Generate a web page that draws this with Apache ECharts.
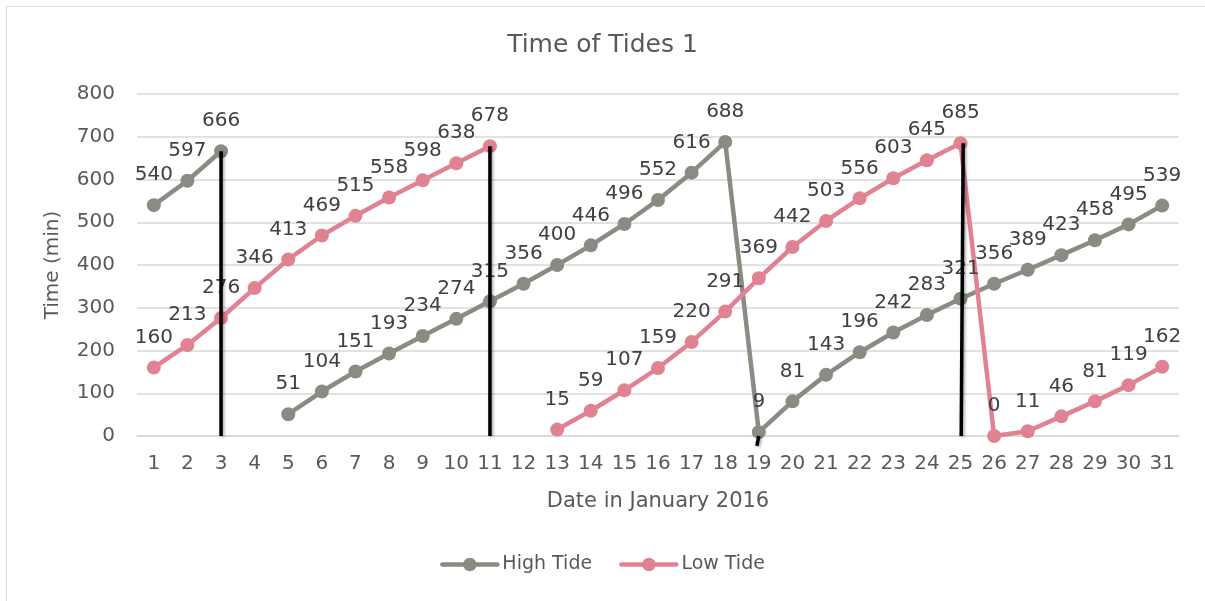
<!DOCTYPE html>
<html>
<head>
<meta charset="utf-8">
<script src="https://cdn.jsdelivr.net/npm/echarts@6/dist/echarts.min.js"></script>
<style>
  html, body { margin: 0; padding: 0; background: #fff; overflow: hidden; }
  #frame { position: absolute; left: 6px; top: 6px; width: 1300px; height: 700px; border: 1.5px solid #d9d9d9; box-sizing: border-box; }
  #chart { position: absolute; left: 0; top: 0; width: 1205px; height: 601px; }
</style>
</head>
<body>
<div id="frame"></div>
<div id="chart"></div>
<script>
const days = ['1','2','3','4','5','6','7','8','9','10','11','12','13','14','15','16','17','18','19','20','21','22','23','24','25','26','27','28','29','30','31'];
const highTide = [540,597,666,null,51,104,151,193,234,274,315,356,400,446,496,552,616,688,9,81,143,196,242,283,321,356,389,423,458,495,539];
const lowTide = [160,213,276,346,413,469,515,558,598,638,678,null,15,59,107,159,220,291,369,442,503,556,603,645,685,0,11,46,81,119,162];
const yTicks = [0,100,200,300,400,500,600,700,800];
// hand-drawn divider strokes: start/end (day position, minutes)
const dividerStartX = [3, 11, 19, 25.08];
const dividerStartY = [666, 678, 0, 685];
const dividerEndX = [3, 11, 18.94, 25.02];
const dividerEndY = [0, 0, -23, 0];

const FONT = 'DejaVu Sans';
const chart = echarts.init(document.getElementById('chart'), null, { renderer: 'canvas' });

const labelStyle = {
  show: true, position: 'top', distance: 13,
  color: '#404040', fontFamily: FONT, fontSize: 20,
  formatter: p => (p.value == null ? '' : String(p.value))
};

const dividerSeries = dividerStartX.map((x, i) => ({
  type: 'line', xAxisIndex: 1, yAxisIndex: 0, z: 10,
  data: [[x, dividerStartY[i]], [dividerEndX[i], dividerEndY[i]]],
  symbol: 'none', clip: false, silent: true,
  lineStyle: { color: '#000', width: 3.5, shadowBlur: 3, shadowColor: 'rgba(0,0,0,0.35)', shadowOffsetX: 1.5, shadowOffsetY: 1 },
  legendHoverLink: false
}));

chart.setOption({
  animation: false,
  backgroundColor: 'transparent',
  title: {
    text: 'Time of Tides 1', left: 'center', top: 28,
    textStyle: { fontFamily: FONT, fontSize: 25, fontWeight: 'normal', color: '#595959' }
  },
  legend: {
    bottom: 22, left: 'center',
    data: ['High Tide', 'Low Tide'],
    itemWidth: 55, itemHeight: 17, itemGap: 27,
    lineStyle: { width: 4.5, cap: 'round' },
    textStyle: { fontFamily: FONT, fontSize: 19, color: '#595959' }
  },
  grid: { left: 137, right: 26, top: 94, bottom: 165, containLabel: false },
  xAxis: [{
    type: 'category', data: days, boundaryGap: true,
    name: 'Date in January 2016', nameLocation: 'middle', nameGap: 55,
    nameTextStyle: { fontFamily: FONT, fontSize: 21, color: '#595959' },
    axisLine: { lineStyle: { color: '#d9d9d9', width: 1.5 } },
    axisTick: { show: false },
    axisLabel: { fontFamily: FONT, fontSize: 20, color: '#595959', margin: 18, interval: 0 }
  }, {
    type: 'value', min: 0.5, max: 31.5, show: false
  }],
  yAxis: {
    type: 'value', min: yTicks[0], max: yTicks[yTicks.length - 1], interval: 100,
    name: 'Time (min)', nameLocation: 'middle', nameGap: 74,
    nameTextStyle: { fontFamily: FONT, fontSize: 20, color: '#595959' },
    axisLine: { show: false }, axisTick: { show: false },
    axisLabel: { fontFamily: FONT, fontSize: 20, color: '#595959', margin: 22 },
    splitLine: { lineStyle: { color: '#d9d9d9', width: 1.5 } }
  },
  series: [{
    name: 'High Tide', type: 'line', data: highTide,
    symbol: 'circle', symbolSize: 14, connectNulls: false,
    itemStyle: { color: '#8a8b83' },
    lineStyle: { color: '#8a8b83', width: 4.5, cap: 'round', join: 'round' },
    label: labelStyle
  }, {
    name: 'Low Tide', type: 'line', data: lowTide,
    symbol: 'circle', symbolSize: 14, connectNulls: false,
    itemStyle: { color: '#e18293' },
    lineStyle: { color: '#e18293', width: 4.5, cap: 'round', join: 'round' },
    label: labelStyle
  }].concat(dividerSeries)
});
</script>
</body>
</html>
